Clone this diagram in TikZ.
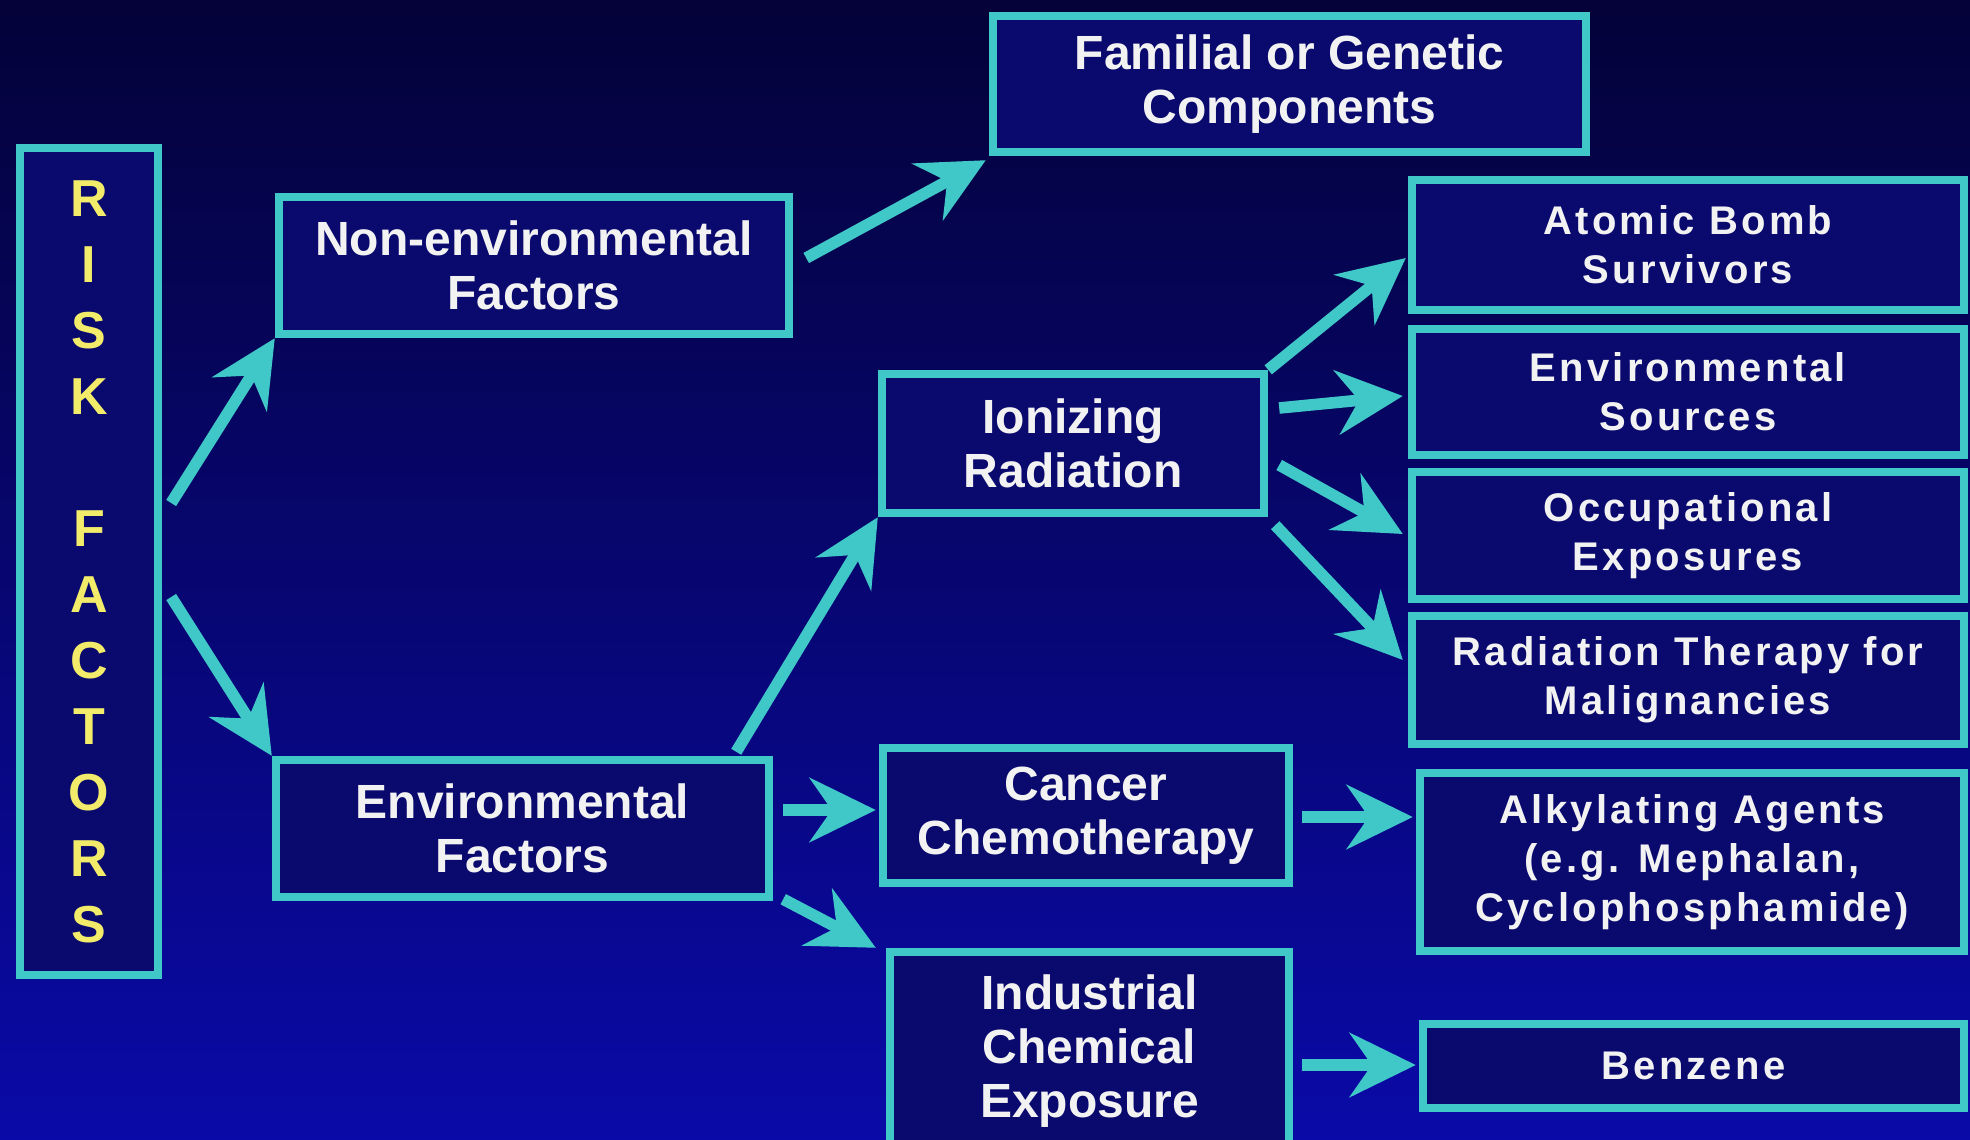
\documentclass[tikz,border=0pt]{standalone}
\usepackage{fontspec}
\setmainfont{Liberation Sans}
\newfontfamily\widefont[LetterSpace=8]{Liberation Sans}
\usetikzlibrary{arrows.meta}

\definecolor{bgtop}{HTML}{040238}
\definecolor{bgbot}{HTML}{0A0AA8}
\definecolor{boxfill}{HTML}{09096E}
\definecolor{edgecyan}{HTML}{40C8C8}
\definecolor{riskyellow}{HTML}{F2EC6A}
\definecolor{labelwhite}{HTML}{F2F2F2}

\begin{document}
\begin{tikzpicture}[x=0.5pt,y=-0.5pt,
  factorbox/.style={draw=edgecyan,line width=4.2pt,fill=boxfill,text=labelwhite,
    font=\fontsize{24}{27}\selectfont\bfseries,align=center,inner sep=0pt},
  sourcebox/.style={factorbox,font=\widefont\fontsize{20}{24.5}\selectfont\bfseries},
  flow/.style={draw=edgecyan,line width=5.8pt,-{Stealth[length=33pt,width=32pt,inset=11pt]}}]
%set diagram size to the slide
\useasboundingbox (0,0) rectangle (1970,1140);
\fill[top color=bgtop,bottom color=bgbot] (0,0) rectangle (1970,1140);

% Text Node
\node[factorbox,text=riskyellow,font=\fontsize{26}{33}\selectfont\bfseries,
  minimum width=69pt,minimum height=413.5pt] (risk) at (89,561.5)
  {R\\I\\S\\K\\[33pt]F\\A\\C\\T\\O\\R\\S};
% Text Node
\node[factorbox,minimum width=255pt,minimum height=68.5pt] (nonenv) at (534,265.5) {Non-environmental\\Factors};
% Text Node
\node[factorbox,minimum width=296.5pt,minimum height=68pt] (familial) at (1289.5,84) {Familial or Genetic\\Components};
% Text Node
\node[factorbox,minimum width=246.5pt,minimum height=68.5pt] (envfac) at (522.5,828.5) {Environmental\\Factors};
% Text Node
\node[factorbox,minimum width=191pt,minimum height=69.5pt] (ionizing) at (1073,443.5) {Ionizing\\Radiation};
% Text Node
\node[factorbox,minimum width=203pt,minimum height=67.5pt] (chemo) at (1086,815.5) {Cancer\\Chemotherapy};
% Text Node
\node[factorbox,minimum width=199.5pt,minimum height=99pt] (industrial) at (1089.5,1051) {Industrial\\Chemical\\Exposure};
% Text Node
\node[sourcebox,minimum width=276pt,minimum height=65pt] (atomic) at (1688,245) {Atomic Bomb\\Survivors};
% Text Node
\node[sourcebox,minimum width=276pt,minimum height=63pt] (envsrc) at (1688,392) {Environmental\\Sources};
% Text Node
\node[sourcebox,minimum width=276pt,minimum height=63.5pt] (occup) at (1688,535.5) {Occupational\\Exposures};
% Text Node
\node[sourcebox,minimum width=276pt,minimum height=64pt] (radther) at (1688,680) {Radiation Therapy for\\Malignancies};
% Text Node
\node[sourcebox,minimum width=272pt,minimum height=89pt] (alkyl) at (1692,862) {Alkylating Agents\\(e.g. Mephalan,\\Cyclophosphamide)};
% Text Node
\node[sourcebox,minimum width=270.5pt,minimum height=42pt] (benzene) at (1693.5,1066) {Benzene};

%Straight Lines
\draw[flow] ([shift={(9,-58.5)}]risk.east) -- (nonenv.south west);
\draw[flow] ([shift={(9,35.5)}]risk.east) -- (envfac.north west);
\draw[flow] ([shift={(13,-7.5)}]nonenv.east) -- ([shift={(-3,4)}]familial.south west);
\draw[flow] ([shift={(-37,-4)}]envfac.north east) -- (ionizing.south west);
\draw[flow] ([shift={(10,-18.5)}]envfac.east) -- ([shift={(-3,-5.5)}]chemo.west);
\draw[flow] ([shift={(10,-2)}]envfac.south east) -- ([shift={(-10,0)}]industrial.north west);
\draw[flow] (ionizing.north east) -- ([shift={(-2,13)}]atomic.west);
\draw[flow] ([shift={(11,-35.5)}]ionizing.east) -- ([shift={(-5,4)}]envsrc.west);
\draw[flow] ([shift={(11,21.5)}]ionizing.east) -- ([shift={(-5,-1.5)}]occup.west);
\draw[flow] ([shift={(7,8)}]ionizing.south east) -- ([shift={(-5,-20)}]radther.west);
\draw[flow] ([shift={(9,1.5)}]chemo.east) -- ([shift={(-3,-45)}]alkyl.west);
\draw[flow] ([shift={(9,14)}]industrial.east) -- ([shift={(-3,-1)}]benzene.west);

\end{tikzpicture}
\end{document}
